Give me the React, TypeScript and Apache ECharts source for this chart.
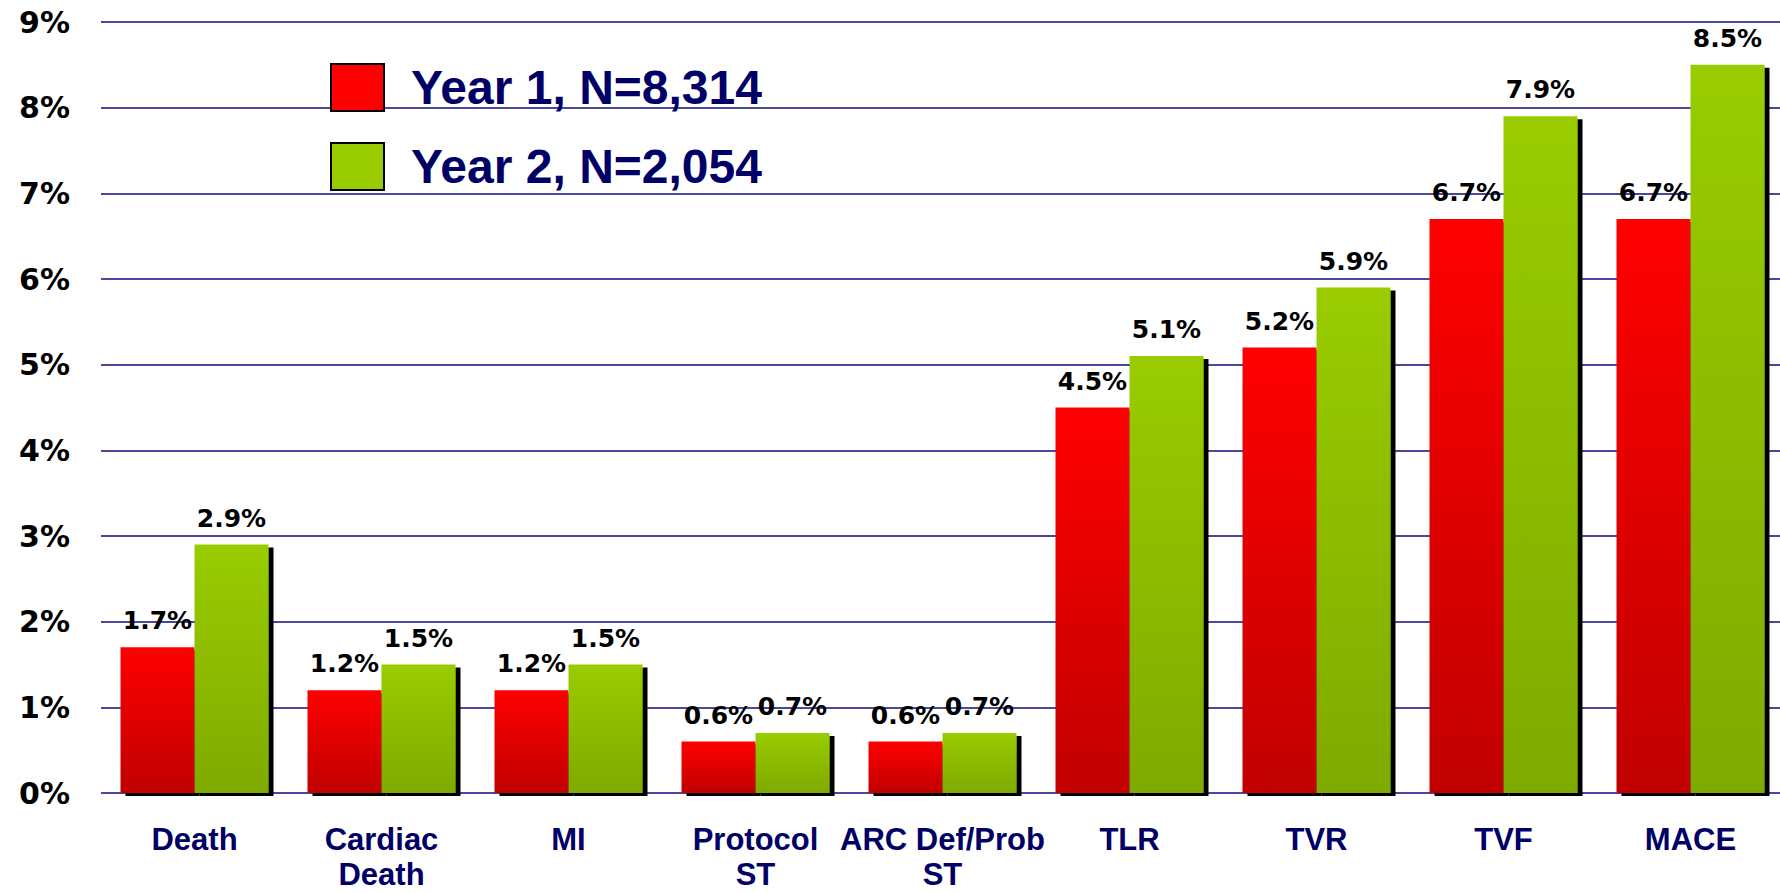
import React, { useEffect, useRef } from "react";
import * as echarts from "echarts";

const categories = ["Death", "Cardiac\nDeath", "MI", "Protocol\nST", "ARC Def/Prob\nST", "TLR", "TVR", "TVF", "MACE"];
const year1 = [1.7, 1.2, 1.2, 0.6, 0.6, 4.5, 5.2, 6.7, 6.7];
const year2 = [2.9, 1.5, 1.5, 0.7, 0.7, 5.1, 5.9, 7.9, 8.5];
const seriesNames = ["Year 1, N=8,314", "Year 2, N=2,054"];

export default function App() {
  const ref = useRef<HTMLDivElement>(null);
  useEffect(() => {
    document.body.style.margin = "0";
    const chart = echarts.init(ref.current!, null, { renderer: "svg" });
    const navy = "#000066";
    const labelStyle = {
      show: true,
      position: "top",
      distance: 14,
      formatter: (p: any) => p.value.toFixed(1) + "%",
      fontFamily: "DejaVu Sans",
      fontWeight: "bold",
      fontSize: 25,
      color: "#000",
    };
    const shadow = { shadowColor: "#000", shadowBlur: 0, shadowOffsetX: 5, shadowOffsetY: 3 };
    chart.setOption({
      animation: false,
      backgroundColor: "#fff",
      grid: { left: 101, right: -4, top: 22, bottom: 100, containLabel: false, outerBoundsMode: "none" },
      legend: {
        orient: "vertical",
        left: 330,
        top: 63,
        padding: 0,
        itemWidth: 53,
        itemHeight: 47,
        itemGap: 30,
        icon: "rect",
        textStyle: { fontFamily: "Liberation Sans", fontWeight: "bold", fontSize: 48, color: navy, lineHeight: 47, padding: [0, 0, 0, 22] },
        data: [
          { name: seriesNames[0], itemStyle: { color: "#ff0000", borderColor: "#000", borderWidth: 2, shadowColor: "transparent", shadowOffsetX: 0, shadowOffsetY: 0 } },
          { name: seriesNames[1], itemStyle: { color: "#99cc00", borderColor: "#000", borderWidth: 2, shadowColor: "transparent", shadowOffsetX: 0, shadowOffsetY: 0 } },
        ],
      },
      xAxis: {
        type: "category",
        data: categories,
        axisLine: { show: false },
        axisTick: { show: false },
        axisLabel: {
          interval: 0,
          margin: 29,
          fontFamily: "Liberation Sans",
          fontWeight: "bold",
          fontSize: 31,
          lineHeight: 35,
          color: navy,
        },
      },
      yAxis: {
        type: "value",
        min: 0,
        max: 9,
        interval: 1,
        axisLine: { show: false },
        axisTick: { show: false },
        axisLabel: {
          margin: 31,
          formatter: "{value}%",
          fontFamily: "DejaVu Sans",
          fontWeight: "bold",
          fontSize: 30,
          color: "#000",
        },
        splitLine: { lineStyle: { color: "#4848a0", width: 2 } },
      },
      series: [
        {
          name: seriesNames[0],
          type: "bar",
          data: year1,
          barWidth: 74,
          barGap: "0%",
          itemStyle: {
            color: new echarts.graphic.LinearGradient(0, 0, 0, 1, [
              { offset: 0, color: "#ff0000" },
              { offset: 1, color: "#c00000" },
            ]),
            ...shadow,
          },
          label: labelStyle,
        },
        {
          name: seriesNames[1],
          type: "bar",
          data: year2,
          barWidth: 74,
          barGap: "0%",
          itemStyle: {
            color: new echarts.graphic.LinearGradient(0, 0, 0, 1, [
              { offset: 0, color: "#99cc00" },
              { offset: 1, color: "#7faa00" },
            ]),
            ...shadow,
          },
          label: labelStyle,
        },
      ],
    });
    return () => chart.dispose();
  }, []);
  return <div ref={ref} style={{ width: 1780, height: 893 }} />;
}
